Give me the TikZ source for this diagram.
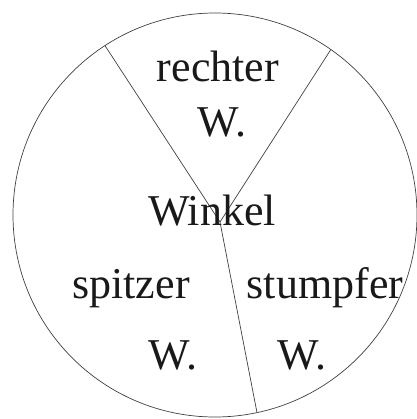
\documentclass[tikz,border=0pt]{standalone}
\usepackage{fontspec}
\setmainfont{Liberation Serif}
\begin{document}
\begin{tikzpicture}[x=1bp,y=-1bp,
  rim/.style={draw=black!75, line width=0.7bp, circle, minimum size=404bp, inner sep=0pt, outer sep=0pt},
  divider/.style={draw=black!75, line width=0.7bp},
  lbl/.style={anchor=base, inner sep=0pt, text=black!90, font=\fontsize{44bp}{48bp}\selectfont}]
\useasboundingbox (0,0) rectangle (417,419);
\node[rim] (c) at (215,215) {};
\coordinate (J) at (220,222);
\draw[divider] (c.123) -- (J);
\draw[divider] (c.55) -- (J);
\draw[divider] (J) -- (c.-78.5);
\node[lbl] (r1) at (218,81) {rechter};
\node[lbl] (r2) at (222,136) {W.};
\node[lbl] (w) at (212,225) {Winkel};
\node[lbl] (s1) at (131,298) {spitzer};
\node[lbl] (s2) at (173,369) {W.};
\node[lbl] (t1) at (325,298) {stumpfer};
\node[lbl] (t2) at (302,369) {W.};
\end{tikzpicture}
\end{document}
